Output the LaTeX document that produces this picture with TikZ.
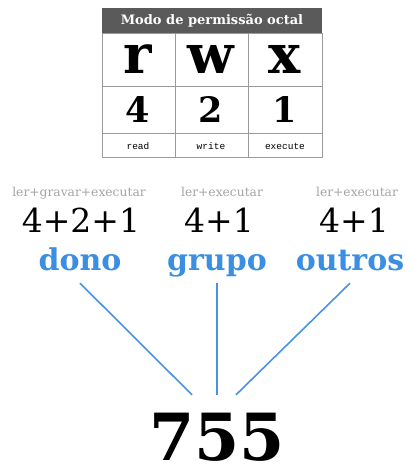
\documentclass[tikz,border=0pt]{standalone}
\usepackage{fontspec}
\setmainfont{DejaVu Serif}
\setmonofont{Liberation Mono}
\definecolor{pmblue}{HTML}{3B8EE2}
\definecolor{pmline}{HTML}{4A92E4}
\definecolor{pmhead}{HTML}{5A5A5A}
\definecolor{pmgrid}{HTML}{9A9A9A}
\definecolor{pmgray}{HTML}{A4A4A4}
\usepackage{tikz}

\begin{document}
\begin{tikzpicture}[x=1pt,y=-1pt,
  hdr/.style={text=white,font=\bfseries\fontsize{13}{15}\selectfont,inner sep=0pt},
  letter/.style={anchor=base,font=\bfseries\fontsize{54}{58}\selectfont,inner sep=0pt},
  digit/.style={anchor=base,font=\bfseries\fontsize{35}{38}\selectfont,inner sep=0pt},
  word/.style={anchor=base,font=\ttfamily\fontsize{9.5}{11}\selectfont,inner sep=0pt},
  perm/.style={anchor=base,text=pmgray,font=\fontsize{12.3}{14}\selectfont,inner sep=0pt},
  sum/.style={anchor=base,font=\fontsize{33}{36}\selectfont,inner sep=0pt},
  who/.style={anchor=base,text=pmblue,font=\bfseries\fontsize{30}{32}\selectfont,
    text depth=8pt,inner sep=5pt},
  link/.style={pmline,line width=1.6pt}]
\useasboundingbox (0,0) rectangle (412,466);
% tabela
\fill[pmhead] (102,8) rectangle (322,33);
\draw[pmgrid,line width=0.8pt] (102,33) rectangle (322,157);
\draw[pmgrid,line width=0.8pt] (102,86) -- (322,86) (102,133) -- (322,133)
  (175,33) -- (175,157) (248,33) -- (248,157);
\node[hdr] (tit) at (212,21) {Modo de permissão octal};
\node[letter] (r) at (138,73) {r};
\node[letter] (w) at (211,73) {w};
\node[letter] (x) at (285,73) {x};
\node[digit] (d4) at (138,122) {4};
\node[digit] (d2) at (211,122) {2};
\node[digit] (d1) at (285,122) {1};
\node[word] (rd) at (138,149) {read};
\node[word] (wr) at (211,149) {write};
\node[word] (ex) at (285,149) {execute};
% dono / grupo / outros
\node[perm] (p1) at (79,196) {ler+gravar+executar};
\node[perm] (p2) at (222,196) {ler+executar};
\node[perm] (p3) at (357,196) {ler+executar};
\node[sum] (s1) at (81,232) {4+2+1};
\node[sum] (s2) at (219,232) {4+1};
\node[sum] (s3) at (354,232) {4+1};
\node[who] (dono) at (80,270) {dono};
\node[who] (grupo) at (217,270) {grupo};
\node[who] (outros) at (350,270) {outros};
\node[anchor=base,font=\bfseries\fontsize{65}{70}\selectfont,text height=50pt,inner sep=0pt]
  (num) at (217,460) {755};
\draw[link] (dono.south) -- ([shift={(-25,-15)}]num.north);
\draw[link] (grupo.south) -- ([shift={(0,-15)}]num.north);
\draw[link] (outros.south) -- ([shift={(19,-15)}]num.north);
\end{tikzpicture}
\end{document}
